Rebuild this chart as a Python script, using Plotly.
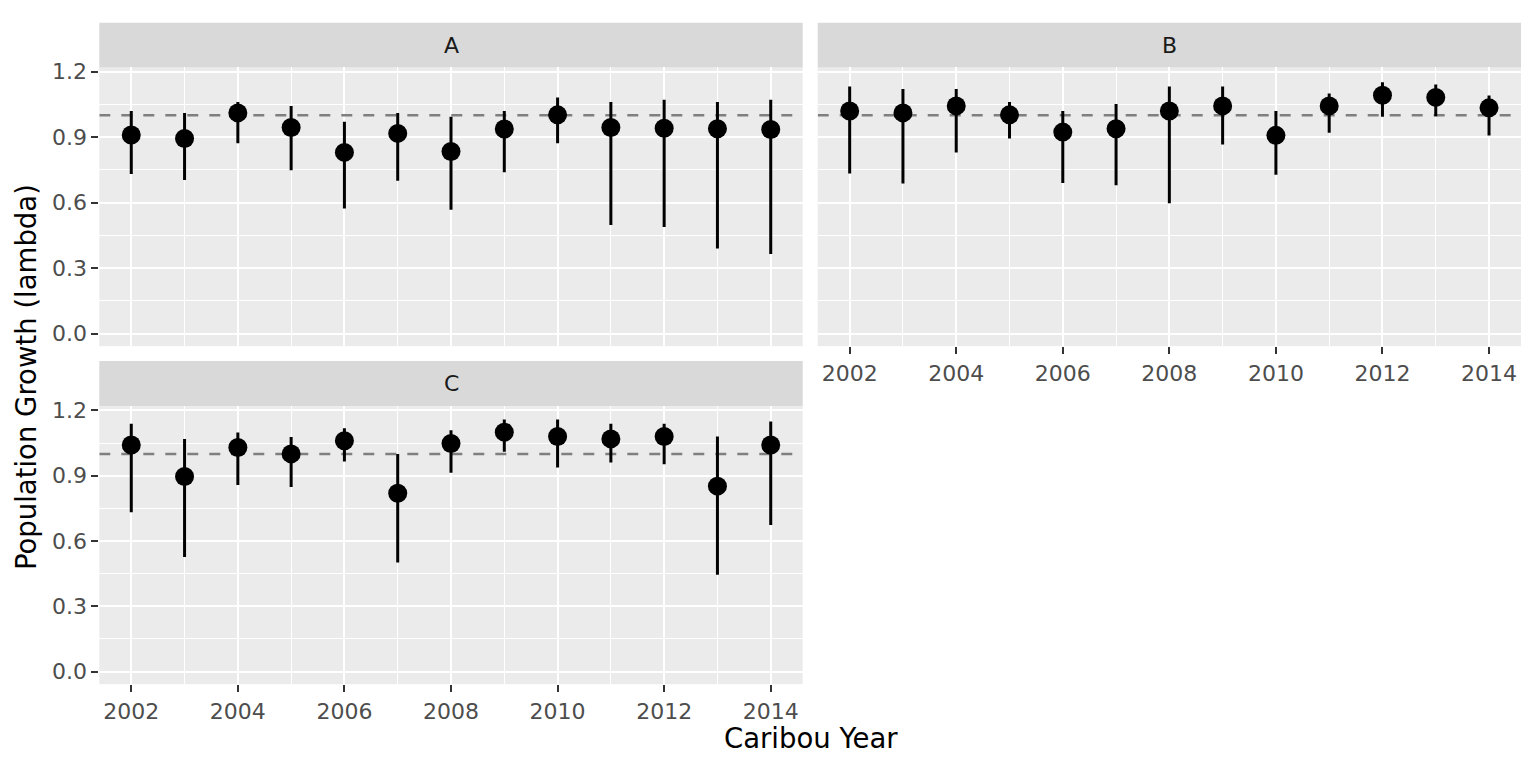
import plotly.graph_objects as go

years = [2002, 2003, 2004, 2005, 2006, 2007, 2008, 2009, 2010, 2011, 2012, 2013, 2014]

# Panel A
a_mid = [0.910, 0.894, 1.011, 0.944, 0.830, 0.917, 0.834, 0.937, 1.002, 0.944, 0.941, 0.938, 0.935]
a_hi = [1.020, 1.011, 1.061, 1.043, 0.970, 1.011, 0.993, 1.020, 1.082, 1.061, 1.071, 1.061, 1.071]
a_lo = [0.731, 0.704, 0.872, 0.748, 0.573, 0.700, 0.567, 0.739, 0.872, 0.497, 0.488, 0.390, 0.364]

# Panel B
b_mid = [1.020, 1.011, 1.043, 1.002, 0.923, 0.938, 1.020, 1.043, 0.908, 1.043, 1.092, 1.082, 1.034]
b_hi = [1.132, 1.121, 1.121, 1.061, 1.020, 1.052, 1.132, 1.132, 1.020, 1.100, 1.151, 1.141, 1.091]
b_lo = [0.733, 0.688, 0.830, 0.894, 0.690, 0.680, 0.597, 0.866, 0.728, 0.920, 0.993, 0.996, 0.907]

# Panel C
c_mid = [1.041, 0.896, 1.029, 1.000, 1.060, 0.819, 1.048, 1.100, 1.080, 1.069, 1.080, 0.852, 1.041]
c_hi = [1.139, 1.068, 1.098, 1.078, 1.118, 1.000, 1.109, 1.158, 1.158, 1.139, 1.139, 1.080, 1.149]
c_lo = [0.732, 0.526, 0.857, 0.848, 0.965, 0.501, 0.914, 1.010, 0.938, 0.961, 0.953, 0.445, 0.673]

panel_labels = ["A", "B", "C"]
ref_value = 1.0
x_title = "Caribou Year"
y_title = "Population Growth (lambda)"

W, H = 1536, 768
FONT = "DejaVu Sans"

xrange_ = [2001.4, 2014.6]
yrange_ = [-0.0576, 1.2195]

fig = go.Figure()

panels = [
    (a_mid, a_hi, a_lo, "x", "y"),
    (b_mid, b_hi, b_lo, "x2", "y2"),
    (c_mid, c_hi, c_lo, "x3", "y3"),
]
# reference line (drawn first, under the points)
for _, _, _, xa, ya in panels:
    fig.add_trace(go.Scatter(
        x=xrange_, y=[ref_value, ref_value], xaxis=xa, yaxis=ya, mode="lines",
        line=dict(color="#7F7F7F", width=2.5, dash="11px,11px"),
        showlegend=False, hoverinfo="skip",
    ))
for mid, hi, lo, xa, ya in panels:
    fig.add_trace(go.Scatter(
        x=years, y=mid, xaxis=xa, yaxis=ya, mode="markers",
        marker=dict(color="black", size=19),
        error_y=dict(type="data", symmetric=False,
                     array=[h - m for h, m in zip(hi, mid)],
                     arrayminus=[m - l for m, l in zip(mid, lo)],
                     color="black", thickness=3, width=0),
        showlegend=False, hoverinfo="skip",
    ))


def px_x(p):
    return p / W


def px_y(p):
    return 1 - p / H


xA = [px_x(99.3), px_x(802.7)]
xB = [px_x(817.7), px_x(1521)]
yTop = [px_y(341.7), px_y(60)]
yBot = [px_y(683.3), px_y(402.3)]

grid_common = dict(
    showgrid=True, gridcolor="white", gridwidth=2.2,
    zeroline=False, showline=False,
    tickfont=dict(family=FONT, size=22, color="#4D4D4D"),
    ticklen=7, tickwidth=2, tickcolor="#333333",
)


def xaxis(domain, anchor, labels):
    d = dict(grid_common)
    d.update(domain=domain, anchor=anchor, range=xrange_, tickmode="linear",
             tick0=2002, dtick=2,
             minor=dict(tick0=2002, dtick=1, showgrid=True, gridcolor="white", gridwidth=1.1),
             ticks="outside" if labels else "", showticklabels=labels)
    return d


def yaxis(domain, anchor, labels):
    d = dict(grid_common)
    d.update(domain=domain, anchor=anchor, range=yrange_, tickmode="linear",
             tick0=0, dtick=0.3, tickformat=".1f",
             minor=dict(tick0=0, dtick=0.15, showgrid=True, gridcolor="white", gridwidth=1.1),
             ticks="outside" if labels else "", showticklabels=labels)
    return d


fig.update_layout(
    width=W, height=H, autosize=False,
    margin=dict(l=0, r=0, t=0, b=0),
    paper_bgcolor="white", plot_bgcolor="#EBEBEB",
    font=dict(family=FONT),
    xaxis=xaxis(xA, "y", False),
    yaxis=yaxis(yTop, "x", True),
    xaxis2=xaxis(xB, "y2", True),
    yaxis2=yaxis(yTop, "x2", False),
    xaxis3=xaxis(xA, "y3", True),
    yaxis3=yaxis(yBot, "x3", True),
)

shapes = []
strips = [
    (xA, [px_y(60), px_y(15)], panel_labels[0]),
    (xB, [px_y(60), px_y(15)], panel_labels[1]),
    (xA, [px_y(402.3), px_y(356.7)], panel_labels[2]),
]
annotations = []
for xd, yd, lab in strips:
    shapes.append(dict(type="rect", xref="paper", yref="paper",
                       x0=xd[0], x1=xd[1], y0=yd[0], y1=yd[1],
                       fillcolor="#D9D9D9", line=dict(width=0), layer="below"))
    annotations.append(dict(text=lab, xref="paper", yref="paper",
                            x=(xd[0] + xd[1]) / 2, y=(yd[0] + yd[1]) / 2,
                            xanchor="center", yanchor="middle", showarrow=False,
                            font=dict(family=FONT, size=22, color="#1A1A1A")))

annotations.append(dict(text=x_title, xref="paper", yref="paper",
                        x=px_x(810.5), y=px_y(738), xanchor="center", yanchor="middle",
                        showarrow=False, font=dict(family=FONT, size=27.5, color="black")))
annotations.append(dict(text=y_title, xref="paper", yref="paper",
                        x=px_x(26), y=px_y(373), xanchor="center", yanchor="middle",
                        textangle=-90, showarrow=False,
                        font=dict(family=FONT, size=27.5, color="black")))

fig.update_layout(shapes=shapes, annotations=annotations)

post = (
    "document.documentElement.style.margin='0';"
    "document.body.style.margin='0';document.body.style.padding='0';"
    "document.body.style.overflow='hidden';"
    "var d=document.getElementById('{plot_id}');"
    "if(d){d.style.position='absolute';d.style.top='0px';d.style.left='0px';}"
)
fig.write_html("out.html", config={"displayModeBar": False}, post_script=post)
